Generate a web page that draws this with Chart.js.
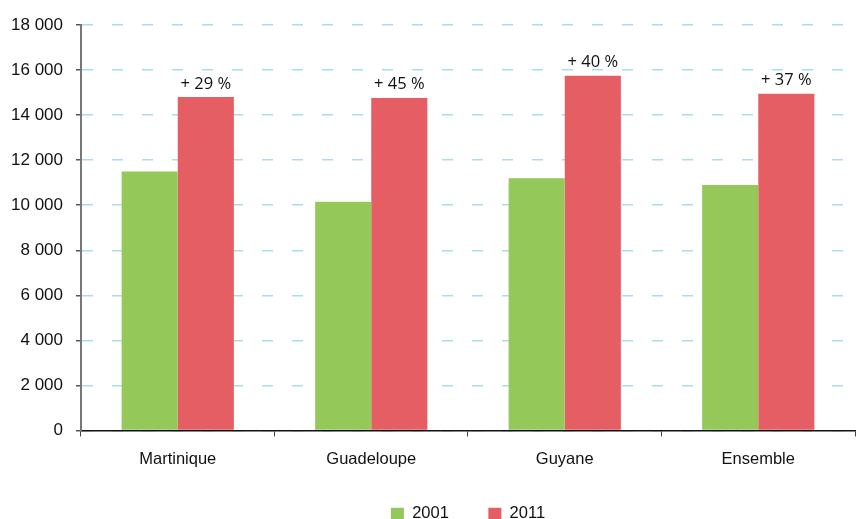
<!DOCTYPE html>
<html>
<head>
<meta charset="utf-8">
<script src="https://cdn.jsdelivr.net/npm/chart.js@4.4.1/dist/chart.umd.min.js"></script>
<style>
  html, body { margin: 0; padding: 0; background: #fff; }
  #wrap { width: 856px; height: 519px; }
</style>
</head>
<body>
<div id="wrap"><canvas id="chart"></canvas></div>
<script>
// Data
const categories = ['Martinique', 'Guadeloupe', 'Guyane', 'Ensemble'];
const values2001 = [11500, 10150, 11200, 10900];
const values2011 = [14800, 14760, 15750, 14950];
const growthLabels = ['+ 29 %', '+ 45 %', '+ 40 %', '+ 37 %'];

const axisFont = '"Liberation Sans", Arial, sans-serif';

// Draw the growth text above the 2011 bars
const growthPlugin = {
    id: 'growth',
    afterDatasetsDraw(chart) {
        const ctx = chart.ctx;
        const meta = chart.getDatasetMeta(1);
        ctx.save();
        ctx.font = '16.5px "Open Sans", sans-serif';
        ctx.fillStyle = '#111';
        ctx.textAlign = 'center';
        ctx.textBaseline = 'bottom';
        meta.data.forEach(function(bar, i) {
            ctx.fillText(growthLabels[i], bar.x, bar.y - 5);
        });
        ctx.restore();
    }
};

const ctx = document.getElementById('chart').getContext('2d');
const chart = new Chart(ctx, {
    type: 'bar',
    data: {
        labels: categories,
        datasets: [{
            label: '2001',
            data: values2001,
            backgroundColor: '#94c959',
            categoryPercentage: 0.58,
            barPercentage: 1
        }, {
            label: '2011',
            data: values2011,
            backgroundColor: '#e55e63',
            categoryPercentage: 0.58,
            barPercentage: 1
        }]
    },
    options: {
        responsive: true,
        maintainAspectRatio: false,
        animation: false,
        layout: {
            padding: { top: 25, right: 1, left: -2, bottom: -13 }
        },
        scales: {
            x: {
                grid: {
                    offset: true,
                    drawOnChartArea: false,
                    drawTicks: true,
                    tickLength: 6,
                    tickColor: '#444'
                },
                border: { color: '#111', width: 1.5 },
                ticks: {
                    color: '#111',
                    padding: 13,
                    font: { family: axisFont, size: 16.5 }
                },
                afterFit: function(scale) {
                    // leave room between the category names and the legend
                    scale.height = 74;
                }
            },
            y: {
                min: 0,
                max: 18000,
                grid: {
                    color: '#a9dde9',
                    lineWidth: 1.5,
                    tickColor: '#555',
                    tickLength: 5,
                    drawTicks: true
                },
                border: { color: '#777', width: 2, dash: [11, 19] },
                ticks: {
                    stepSize: 2000,
                    color: '#111',
                    padding: 13,
                    font: { family: axisFont, size: 17 },
                    callback: function(value) {
                        return value.toString().replace(/\B(?=(\d{3})+(?!\d))/g, ' ');
                    }
                }
            }
        },
        plugins: {
            legend: {
                position: 'bottom',
                fullSize: false,
                labels: {
                    boxWidth: 13,
                    boxHeight: 12,
                    padding: 1,
                    color: '#111',
                    font: { family: axisFont, size: 16.5 },
                    generateLabels: function(chart) {
                        const items = Chart.defaults.plugins.legend.labels.generateLabels(chart);
                        // widen the gap between the two entries
                        items[0].text = items[0].text + '\u2003\u2003\u2004';
                        return items;
                    }
                }
            },
            tooltip: { enabled: false }
        }
    },
    plugins: [growthPlugin]
});
</script>
</body>
</html>
